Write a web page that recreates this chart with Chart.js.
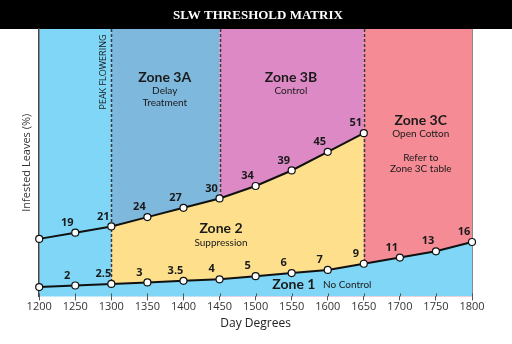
<!DOCTYPE html>
<html>
<head>
<meta charset="utf-8">
<script src="https://cdn.jsdelivr.net/npm/chart.js@4/dist/chart.umd.min.js"></script>
<style>
  html, body { margin: 0; padding: 0; background: #fff; }
  #wrap { width: 512px; height: 344px; }
</style>
</head>
<body>
<div id="wrap"><canvas id="matrix"></canvas></div>
<script>
// day degrees along the bottom
const degrees = [1200, 1250, 1300, 1350, 1400, 1450, 1500, 1550, 1600, 1650, 1700, 1750, 1800];

// % infested leaves, upper threshold (until open cotton) and lower (no control) threshold
const treatThreshold = [17, 19, 21, 24, 27, 30, 34, 39, 45, 51];
const noControlThreshold = [1.5, 2, 2.5, 3, 3.5, 4, 5, 6, 7, 9, 11, 13, 16];

// background zones
const zoneBounds = [1200, 1300, 1450, 1650, 1800];
const zoneColors = ['#7fd6f6', '#7fb8dd', '#dd89c5', '#f58b95'];

const peakFlowering = 1300;
const openCotton = 1650;
const zone3bStart = 1450;

const TITLE = 'SLW THRESHOLD MATRIX';
const BLUE = '#7fd6f6';
const YELLOW = '#fedf8b';
const SANS = "'Open Sans', sans-serif";
const CAPTION = "Lato, sans-serif";

function toPoints(values, from) {
    return values.map((v, i) => ({ x: degrees[i + from], y: v }));
}

const zone2From = degrees.indexOf(peakFlowering);
const zone2To = degrees.indexOf(openCotton) + 1;

const data = {
    datasets: [
        {
            label: 'Treatment threshold',
            data: toPoints(treatThreshold, 0),
            borderColor: '#111',
            borderWidth: 2,
            pointRadius: 3.5,
            pointBorderWidth: 1.2,
            pointBackgroundColor: '#fff',
            pointBorderColor: '#111',
            fill: false,
            clip: false,
        },
        {
            label: 'No control threshold',
            data: toPoints(noControlThreshold, 0),
            borderColor: '#111',
            borderWidth: 2,
            pointRadius: 3.5,
            pointBorderWidth: 1.2,
            pointBackgroundColor: '#fff',
            pointBorderColor: '#111',
            fill: 'start',
            backgroundColor: BLUE,
            clip: false,
        },
        {
            // zone 2 band between the two thresholds
            label: 'Zone 2 top',
            data: toPoints(treatThreshold.slice(zone2From, zone2To), zone2From),
            borderWidth: 0,
            pointRadius: 0,
            fill: '+1',
            backgroundColor: YELLOW,
        },
        {
            label: 'Zone 2 bottom',
            data: toPoints(noControlThreshold.slice(zone2From, zone2To), zone2From),
            borderWidth: 0,
            pointRadius: 0,
            fill: false,
        },
    ],
};

function valueAt(series, deg) {
    return series[degrees.indexOf(deg)];
}

const matrixPlugin = {
    id: 'matrix',
    beforeDraw(chart) {
        const { ctx, chartArea: a, scales: { x } } = chart;
        ctx.save();
        ctx.fillStyle = '#fff';
        ctx.fillRect(0, 0, chart.width, chart.height);
        ctx.fillStyle = '#000';
        ctx.fillRect(0, 0, chart.width, a.top);
        ctx.fillStyle = '#fff';
        ctx.font = "bold 13px 'Liberation Serif', serif";
        ctx.textAlign = 'center';
        ctx.textBaseline = 'middle';
        ctx.fillText(TITLE, 258, 16);
        for (let i = 0; i < zoneColors.length; i++) {
            const x0 = x.getPixelForValue(zoneBounds[i]);
            const x1 = x.getPixelForValue(zoneBounds[i + 1]);
            ctx.fillStyle = zoneColors[i];
            ctx.fillRect(x0, a.top, x1 - x0, a.bottom - a.top);
        }
        ctx.restore();
    },
    beforeDatasetsDraw(chart) {
        const { ctx, chartArea: a, scales: { x, y } } = chart;
        const dashes = [
            [peakFlowering, valueAt(noControlThreshold, peakFlowering)],
            [zone3bStart, valueAt(treatThreshold, zone3bStart)],
            [openCotton, valueAt(noControlThreshold, openCotton)],
        ];
        ctx.save();
        ctx.strokeStyle = '#3a3a3a';
        ctx.lineWidth = 1.5;
        ctx.setLineDash([3, 2]);
        dashes.forEach(([deg, v]) => {
            const px = Math.round(x.getPixelForValue(deg)) + 0.5;
            ctx.beginPath();
            ctx.moveTo(px, a.top);
            ctx.lineTo(px, y.getPixelForValue(v));
            ctx.stroke();
        });
        ctx.setLineDash([]);
        // right edge of the plot
        ctx.strokeStyle = '#8a8a8a';
        ctx.lineWidth = 1;
        ctx.beginPath();
        ctx.moveTo(a.right + 0.5, a.top);
        ctx.lineTo(a.right + 0.5, a.bottom);
        ctx.stroke();
        // tick marks poke a little into the plot
        ctx.strokeStyle = '#555';
        x.ticks.forEach((t) => {
            const px = Math.round(x.getPixelForValue(t.value)) + 0.5;
            ctx.beginPath();
            ctx.moveTo(px, a.bottom - 3);
            ctx.lineTo(px, a.bottom);
            ctx.stroke();
        });
        ctx.restore();
    },
    afterDatasetsDraw(chart) {
        const { ctx, scales: { x, y } } = chart;
        ctx.save();
        ctx.fillStyle = '#1a1a1a';
        ctx.textAlign = 'center';
        ctx.textBaseline = 'middle';

        // threshold values beside each point
        ctx.font = `bold 11px ${SANS}`;
        [[0, treatThreshold], [1, noControlThreshold]].forEach(([idx, values]) => {
            const meta = chart.getDatasetMeta(idx);
            meta.data.forEach((pt, i) => {
                if (i === 0) return;
                ctx.fillText(String(values[i]), pt.x - 8, pt.y - 10);
            });
        });

        // zone captions
        const zone = (deg, v, title, lines) => {
            const cx = x.getPixelForValue(deg);
            const cy = y.getPixelForValue(v);
            ctx.font = `bold 14px ${CAPTION}`;
            ctx.fillText(title, cx, cy);
            ctx.font = `10px ${CAPTION}`;
            lines.forEach(([text, dy]) => ctx.fillText(text, cx, cy + dy));
        };
        zone(1374, 69, 'Zone 3A', [['Delay', 14], ['Treatment', 26]]);
        zone(1549, 69, 'Zone 3B', [['Control', 14]]);
        zone(1729, 55.2, 'Zone 3C', [['Open Cotton', 14], ['Refer to', 38], ['Zone 3C table', 49]]);
        zone(1452, 20.4, 'Zone 2', [['Suppression', 14]]);
        zone(1553, 2.4, 'Zone 1', []);
        ctx.font = `10px ${CAPTION}`;
        ctx.fillText('No Control', x.getPixelForValue(1627), y.getPixelForValue(2.4) + 1);

        // peak flowering marker text
        ctx.translate(x.getPixelForValue(peakFlowering) - 8, 72);
        ctx.rotate(-Math.PI / 2);
        ctx.font = `9px ${SANS}`;
        ctx.fillText('PEAK FLOWERING', 0, 0);
        ctx.restore();
    },
};

new Chart(document.getElementById('matrix'), {
    type: 'line',
    data,
    options: {
        responsive: true,
        maintainAspectRatio: false,
        animation: false,
        events: [],
        layout: {
            padding: { left: 20, right: 40, top: 29, bottom: 9 },
        },
        plugins: {
            legend: { display: false },
            tooltip: { enabled: false },
            title: { display: false },
            filler: { drawTime: 'beforeDatasetsDraw' },
        },
        scales: {
            x: {
                type: 'linear',
                min: 1200,
                max: 1800,
                ticks: {
                    stepSize: 50,
                    padding: 0,
                    color: '#333',
                    font: { family: SANS, size: 11 },
                    callback: (v) => String(v),
                },
                grid: {
                    drawOnChartArea: false,
                    drawTicks: true,
                    tickLength: 4,
                    color: '#555',
                },
                border: { display: false },
                title: {
                    display: true,
                    text: 'Day Degrees',
                    color: '#222',
                    font: { family: SANS, size: 12 },
                    padding: { top: 3, bottom: 4 },
                },
            },
            y: {
                min: -1.5,
                max: 84.5,
                ticks: { display: false },
                grid: { display: false, drawTicks: false },
                border: { display: true, color: '#444', width: 1.5 },
                title: {
                    display: true,
                    text: 'Infested Leaves (%)',
                    color: '#333',
                    font: { family: SANS, size: 11 },
                    padding: { top: 0, bottom: 6 },
                },
            },
        },
    },
    plugins: [matrixPlugin],
});
</script>
</body>
</html>
